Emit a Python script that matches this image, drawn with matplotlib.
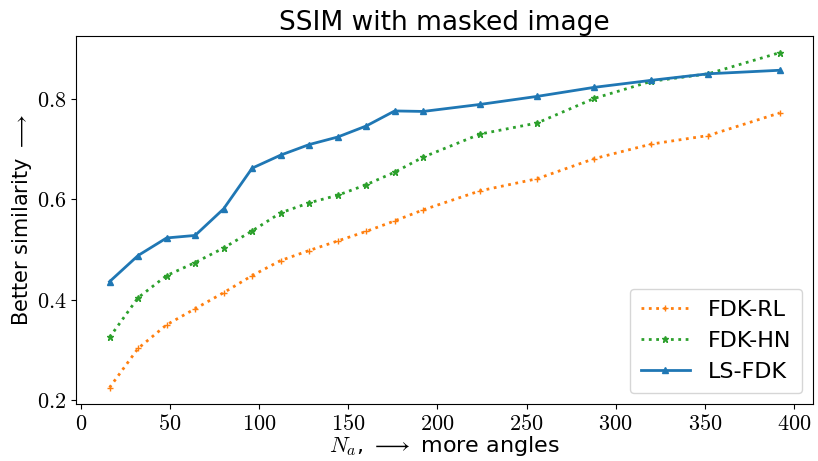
import matplotlib
matplotlib.use("Agg")
import matplotlib.pyplot as plt
from matplotlib.ticker import FuncFormatter

plt.rcParams['mathtext.fontset'] = 'cm'
plt.rcParams['font.family'] = 'DejaVu Sans'

# number of projection angles
n_angles = [16, 32, 48, 64, 80, 96, 112, 128, 144, 160, 176, 192, 224, 256, 288, 320, 352, 392]

# SSIM values
ssim_rl = [0.225, 0.303, 0.350, 0.382, 0.414, 0.448, 0.478, 0.498, 0.517, 0.536, 0.557, 0.579,
           0.617, 0.641, 0.681, 0.710, 0.727, 0.772]
ssim_hn = [0.325, 0.404, 0.448, 0.474, 0.503, 0.537, 0.573, 0.593, 0.608, 0.629, 0.654, 0.684,
           0.730, 0.752, 0.801, 0.835, 0.850, 0.892]
ssim_ls = [0.436, 0.488, 0.523, 0.528, 0.581, 0.662, 0.688, 0.709, 0.724, 0.746, 0.776, 0.775,
           0.789, 0.805, 0.823, 0.837, 0.850, 0.857]

fig, ax = plt.subplots(figsize=(8.18, 4.61), dpi=100)

ax.plot(n_angles, ssim_rl, ':', color='tab:orange', marker='+', markersize=5, linewidth=2, label='FDK-RL')
ax.plot(n_angles, ssim_hn, ':', color='tab:green', marker='*', markersize=5, linewidth=2, label='FDK-HN')
ax.plot(n_angles, ssim_ls, '-', color='tab:blue', marker='^', markersize=5, linewidth=2, label='LS-FDK')

ax.set_xticks([0, 50, 100, 150, 200, 250, 300, 350, 400])
ax.set_yticks([0.2, 0.4, 0.6, 0.8])
ax.xaxis.set_major_formatter(FuncFormatter(lambda v, p: r'$%g$' % v))
ax.yaxis.set_major_formatter(FuncFormatter(lambda v, p: r'$%.1f$' % v))
ax.tick_params(labelsize=16)

ax.set_title('SSIM with masked image', fontsize=19, pad=4)
ax.set_xlabel(r'$N_a$, $\longrightarrow$ more angles', fontsize=16, labelpad=0)
ax.set_ylabel(r'Better similarity $\longrightarrow$', fontsize=15, labelpad=2)

ax.legend(loc='lower right', fontsize=16, handlelength=2.2, borderpad=0.5)

fig.subplots_adjust(left=0.093, right=0.994, top=0.922, bottom=0.123)
fig.savefig('out.png', dpi=100)
